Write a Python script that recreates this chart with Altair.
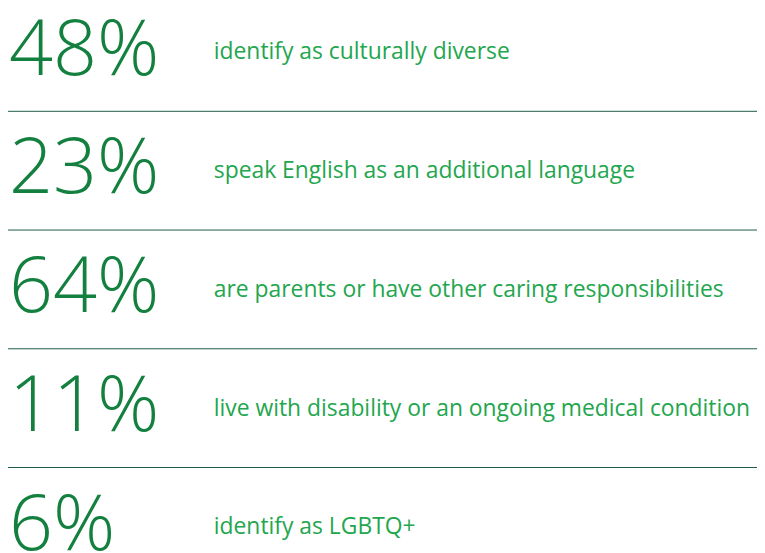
import altair as alt
import pandas as pd

values = ["48%", "23%", "64%", "11%", "6%"]
labels = [
    "identify as culturally diverse",
    "speak English as an additional language",
    "are parents or have other caring responsibilities",
    "live with disability or an ongoing medical condition",
    "identify as LGBTQ+",
]
rows = [0, 1, 2, 3, 4]
divider_rows = [0, 1, 2, 3]

df = pd.DataFrame({"row": rows, "value": values, "label": labels})
rules = pd.DataFrame({"row": divider_rows})

H = 545
yscale = alt.Scale(domain=[-101.5 / 120, (H - 101.5) / 120], range=[0, H], nice=False, zero=False)
y = alt.Y("row:Q", scale=yscale, axis=None)

base = alt.Chart(df)

nums = base.mark_text(
    align="left", baseline="alphabetic", font="Open Sans", fontWeight=300,
    fontSize=78, color="#14803f", dy=-37,
).encode(x=alt.value(1), y=y, text="value:N")

texts = base.mark_text(
    align="left", baseline="alphabetic", font="Open Sans", fontWeight=400,
    fontSize=23.1, color="#22a64e", dy=-52.5,
).encode(x=alt.value(208), y=y, text="label:N")

lines = alt.Chart(rules).mark_rule(color="#1a5a4a", strokeWidth=1).encode(
    x=alt.value(0), x2=alt.value(757), y=y
)

chart = alt.layer(lines, nums, texts).properties(
    width=757, height=H, padding=0, autosize=alt.AutoSizeParams(type="none")
).configure_view(stroke=None)

chart.save("out.html", embed_options={"renderer": "svg", "actions": False})
